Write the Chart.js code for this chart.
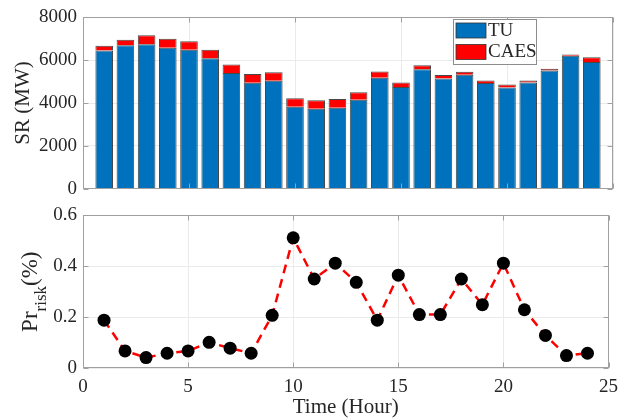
<!DOCTYPE html>
<html><head><meta charset="utf-8">
<script src="https://cdn.jsdelivr.net/npm/chart.js@4/dist/chart.umd.min.js"></script>
<style>
html,body{margin:0;padding:0;background:#fff;width:626px;height:418px;overflow:hidden}
#top{position:absolute;left:0;top:0}
#bot{position:absolute;left:0;top:198px}
</style></head>
<body>
<canvas id="bot" width="626" height="222"></canvas>
<canvas id="top" width="626" height="206"></canvas>
<script>
// ---- data ----
const hours = [1,2,3,4,5,6,7,8,9,10,11,12,13,14,15,16,17,18,19,20,21,22,23,24];
const tuMW = [6450,6700,6750,6580,6490,6090,5400,4950,5040,3820,3730,3780,4150,5180,4750,5580,5150,5320,4930,4730,4960,5520,6210,5920];
const caesMW = [230,260,420,420,400,400,400,400,400,400,400,410,350,290,210,185,155,140,125,140,95,77,62,215];
const riskPct = [0.188,0.067,0.041,0.058,0.067,0.101,0.078,0.058,0.207,0.512,0.350,0.412,0.337,0.188,0.365,0.210,0.210,0.350,0.249,0.412,0.229,0.128,0.049,0.058];
const srTicks = [0,2000,4000,6000,8000];
const riskTicks = [0,0.2,0.4,0.6];
const timeTicks = [0,5,10,15,20,25];
const seriesNames = ['TU','CAES'];

// ---- style ----
const FONT = "'Liberation Serif','Times New Roman',serif";
const TXT = '#262626';
const GRID = '#ebebeb';
const BOX = '#a0a0a0';

const boxPlugin = {
  id: 'box',
  afterDraw(chart) {
    const {ctx, chartArea: a} = chart;
    ctx.save();
    ctx.strokeStyle = BOX; ctx.lineWidth = 1;
    const L = Math.round(a.left) + 0.5, T = Math.round(a.top) + 0.5;
    const R = Math.round(a.right) - 0.5, B = Math.round(a.bottom) - 0.5;
    ctx.strokeRect(L, T, R - L, B - T);
    const tl = 5;
    ctx.beginPath();
    const xs = chart.scales.x, ys = chart.scales.y;
    xs.ticks.forEach(t => {
      const p = Math.round(xs.getPixelForValue(t.value)) + 0.5;
      ctx.moveTo(p, B); ctx.lineTo(p, B - tl);
      ctx.moveTo(p, T); ctx.lineTo(p, T + tl);
    });
    ys.ticks.forEach(t => {
      const p = Math.round(ys.getPixelForValue(t.value)) + 0.5;
      ctx.moveTo(L, p); ctx.lineTo(L + tl, p);
      ctx.moveTo(R, p); ctx.lineTo(R - tl, p);
    });
    ctx.stroke();
    ctx.restore();
  }
};

const legendPlugin = {
  id: 'boxLegend',
  afterDraw(chart) {
    const ctx = chart.ctx;
    const x0 = 453, y0 = 19, w = 83, h = 45;
    ctx.save();
    ctx.fillStyle = '#fff';
    ctx.fillRect(x0, y0, w, h);
    ctx.strokeStyle = '#8c8c8c'; ctx.lineWidth = 1;
    ctx.strokeRect(x0 + 0.5, y0 + 0.5, w, h);
    ctx.font = "19px " + FONT;
    ctx.textBaseline = 'middle';
    chart.data.datasets.forEach((ds, i) => {
      const sy = y0 + 4 + i * 21.5;
      ctx.fillStyle = ds.backgroundColor;
      ctx.fillRect(x0 + 3, sy, 30, 15);
      ctx.strokeStyle = '#333'; ctx.lineWidth = 0.8;
      ctx.strokeRect(x0 + 3, sy, 30, 15);
      ctx.fillStyle = TXT;
      ctx.fillText(ds.label, x0 + 35, sy + 8);
    });
    ctx.restore();
  }
};

const yTitlePlugin = {
  id: 'riskTitle',
  afterDraw(chart) {
    const ctx = chart.ctx, a = chart.chartArea;
    const big = "23px " + FONT, small = "17px " + FONT;
    ctx.save();
    ctx.font = big; const w1 = ctx.measureText('Pr').width; const w3 = ctx.measureText('(%)').width;
    ctx.font = small; const w2 = ctx.measureText('risk').width;
    const total = w1 + w2 + w3;
    const cy = (a.top + a.bottom) / 2;
    const baseX = 37;
    ctx.translate(baseX, cy);
    ctx.rotate(-Math.PI / 2);
    ctx.fillStyle = TXT;
    ctx.textBaseline = 'alphabetic';
    let x = -total / 2;
    ctx.font = big; ctx.fillText('Pr', x, 0); x += w1;
    ctx.font = small; ctx.fillText('risk', x, 9); x += w2;
    ctx.font = big; ctx.fillText('(%)', x, 0);
    ctx.restore();
  }
};

const commonTicks = {font: {family: FONT, size: 19}, color: TXT};

// ---- top chart ----
new Chart(document.getElementById('top'), {
  type: 'bar',
  data: {
    datasets: [
      {label: seriesNames[0], data: hours.map((h, i) => ({x: h, y: tuMW[i]})),
       backgroundColor: '#0072BD', borderColor: 'rgba(40,40,40,0.85)', borderWidth: 1,
       barPercentage: 1, categoryPercentage: 0.83},
      {label: seriesNames[1], data: hours.map((h, i) => ({x: h, y: caesMW[i]})),
       backgroundColor: '#FF0000', borderColor: 'rgba(40,40,40,0.85)', borderWidth: 1,
       barPercentage: 1, categoryPercentage: 0.83}
    ]
  },
  options: {
    responsive: false, animation: false, devicePixelRatio: 1,
    layout: {padding: {top: 15, right: 13, left: 0, bottom: 0}},
    plugins: {legend: {display: false}, tooltip: {enabled: false}},
    scales: {
      x: {type: 'linear', min: timeTicks[0], max: timeTicks[timeTicks.length - 1], stacked: true, offset: false,
          ticks: {display: false, stepSize: 5},
          grid: {color: GRID, drawTicks: false, offset: false}, border: {display: false},
          afterFit: s => { s.height = 12; }},
      y: {min: srTicks[0], max: srTicks[srTicks.length - 1], stacked: true,
          ticks: {...commonTicks, stepSize: 2000, padding: 6, callback: v => String(v)},
          grid: {color: GRID, drawTicks: false}, border: {display: false},
          title: {display: true, text: 'SR (MW)', font: {family: FONT, size: 21, lineHeight: 1}, color: TXT, padding: {top: 13, bottom: 0}},
          afterFit: s => { s.width = 83; }}
    }
  },
  plugins: [boxPlugin, legendPlugin]
});

// ---- bottom chart ----
new Chart(document.getElementById('bot'), {
  type: 'line',
  data: {
    datasets: [{
      label: 'Pr_risk', data: hours.map((h, i) => ({x: h, y: riskPct[i]})),
      borderColor: '#FF0000', borderWidth: 2.5, borderDash: [9, 6], tension: 0, fill: false,
      pointRadius: 6.5, pointBackgroundColor: '#000', pointBorderColor: '#000', pointBorderWidth: 0
    }]
  },
  options: {
    responsive: false, animation: false, devicePixelRatio: 1,
    layout: {padding: {top: 12, right: 13, left: 0, bottom: 0}},
    plugins: {legend: {display: false}, tooltip: {enabled: false}},
    scales: {
      x: {type: 'linear', min: timeTicks[0], max: timeTicks[timeTicks.length - 1],
          ticks: {...commonTicks, stepSize: 5, padding: 8, maxRotation: 0},
          grid: {color: GRID, drawTicks: false}, border: {display: false},
          title: {display: true, text: 'Time (Hour)', font: {family: FONT, size: 21, lineHeight: 1}, color: TXT, padding: {top: 0, bottom: 2}},
          afterFit: s => { s.height = 52; }},
      y: {min: riskTicks[0], max: riskTicks[riskTicks.length - 1],
          ticks: {...commonTicks, stepSize: 0.2, padding: 6},
          grid: {color: GRID, drawTicks: false}, border: {display: false},
          afterFit: s => { s.width = 83; }}
    }
  },
  plugins: [boxPlugin, yTitlePlugin]
});
</script>
</body></html>
